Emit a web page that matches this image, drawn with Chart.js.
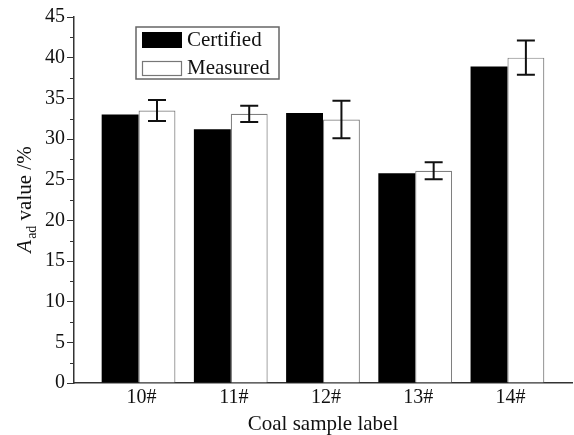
<!DOCTYPE html>
<html>
<head>
<meta charset="utf-8">
<script src="https://cdn.jsdelivr.net/npm/chart.js@4"></script>
<style>
  html, body { margin: 0; padding: 0; background: #fff; }
  #wrap { width: 574px; height: 435px; }
</style>
</head>
<body>
<div id="wrap"><canvas id="ashChart" width="574" height="435"></canvas></div>
<script>
var sampleNo = [10, 11, 12, 13, 14];
var sampleLabels = ['10#', '11#', '12#', '13#', '14#'];
var certified = [33.0, 31.2, 33.2, 25.8, 38.9];
var measured = [33.5, 33.1, 32.4, 26.1, 40.0];
var measuredErr = [1.3, 1.0, 2.3, 1.05, 2.1];
var yTicks = [0, 5, 10, 15, 20, 25, 30, 35, 40, 45];

var serif = '"Liberation Serif", "Times New Roman", serif';
var axisColor = '#333';

function toPoints(vals) {
	return vals.map(function (v, i) {
		return { x: sampleNo[i], y: v };
	});
}

// error bars, minor ticks, framed legend and the y title with subscript
var extras = {
	id: 'extras',
	afterDatasetsDraw: function (chart) {
		var ctx = chart.ctx;
		var y = chart.scales.y;
		var meta = chart.getDatasetMeta(1);
		ctx.save();
		ctx.strokeStyle = '#111';
		ctx.lineWidth = 2;
		meta.data.forEach(function (bar, i) {
			var top = y.getPixelForValue(measured[i] + measuredErr[i]);
			var bot = y.getPixelForValue(measured[i] - measuredErr[i]);
			var cx = bar.x;
			ctx.beginPath();
			ctx.moveTo(cx, top);
			ctx.lineTo(cx, bot);
			ctx.moveTo(cx - 9, top);
			ctx.lineTo(cx + 9, top);
			ctx.moveTo(cx - 9, bot);
			ctx.lineTo(cx + 9, bot);
			ctx.stroke();
		});
		ctx.restore();
	},
	afterDraw: function (chart) {
		var ctx = chart.ctx;
		var area = chart.chartArea;
		var y = chart.scales.y;

		// minor ticks on the y axis
		ctx.save();
		ctx.strokeStyle = axisColor;
		ctx.lineWidth = 1;
		for (var v = 2.5; v < 45; v += 5) {
			var py = Math.round(y.getPixelForValue(v)) + 0.5;
			ctx.beginPath();
			ctx.moveTo(area.left - 4, py);
			ctx.lineTo(area.left, py);
			ctx.stroke();
		}

		// legend
		ctx.strokeStyle = '#666';
		ctx.lineWidth = 1.5;
		ctx.strokeRect(136, 27, 143, 52);
		ctx.fillStyle = '#000';
		ctx.fillRect(142, 32, 40, 16);
		ctx.fillStyle = '#fff';
		ctx.fillRect(142.5, 61.5, 39, 14);
		ctx.strokeStyle = '#777';
		ctx.lineWidth = 1.2;
		ctx.strokeRect(142.5, 61.5, 39, 14);
		ctx.fillStyle = '#111';
		ctx.font = '21px ' + serif;
		ctx.textBaseline = 'middle';
		ctx.textAlign = 'left';
		ctx.fillText(chart.data.datasets[0].label, 187, 40);
		ctx.fillText(chart.data.datasets[1].label, 187, 68);

		// y title: A_ad value /%
		ctx.translate(24, (area.top + area.bottom) / 2);
		ctx.rotate(-Math.PI / 2);
		var fA = 'italic 21px ' + serif;
		var fSub = '14px ' + serif;
		var fMain = '21px ' + serif;
		var rest = ' value /%';
		ctx.font = fA; var wA = ctx.measureText('A').width;
		ctx.font = fSub; var wS = ctx.measureText('ad').width;
		ctx.font = fMain; var wR = ctx.measureText(rest).width;
		var x0 = -(wA + wS + wR) / 2;
		ctx.textBaseline = 'alphabetic';
		ctx.font = fA; ctx.fillText('A', x0, 7);
		ctx.font = fSub; ctx.fillText('ad', x0 + wA + 1, 12);
		ctx.font = fMain; ctx.fillText(rest, x0 + wA + wS + 1, 7);
		ctx.restore();
	}
};

new Chart('ashChart', {
	type: 'bar',
	data: {
		datasets: [
			{
				label: 'Certified',
				data: toPoints(certified),
				backgroundColor: '#000',
				borderColor: '#000',
				borderWidth: 0,
			},
			{
				label: 'Measured',
				data: toPoints(measured),
				backgroundColor: '#fff',
				borderColor: '#808080',
				borderWidth: 1.2,
			},
		],
	},
	options: {
		responsive: false,
		animation: false,
		events: [],
		layout: { padding: { top: 17, right: 2, left: 0, bottom: 0 } },
		plugins: {
			legend: { display: false },
			tooltip: { enabled: false },
		},
		datasets: {
			bar: { categoryPercentage: 0.8, barPercentage: 1.0 },
		},
		scales: {
			x: {
				type: 'linear',
				offset: false,
				min: 9.3,
				max: 14.7,
				grid: { display: false, drawTicks: false },
				border: { display: true, color: axisColor, width: 1.5 },
				afterBuildTicks: function (scale) {
					scale.ticks = sampleNo.map(function (n) { return { value: n }; });
				},
				afterFit: function (scale) { scale.height = 52; },
				ticks: {
					color: '#111',
					font: { family: serif, size: 20 },
					padding: 3,
					labelOffset: 3,
					maxRotation: 0,
					callback: function (v) {
						return sampleLabels[sampleNo.indexOf(v)];
					},
				},
				title: {
					display: true,
					text: 'Coal sample label',
					color: '#111',
					font: { family: serif, size: 21 },
					padding: { top: 0, bottom: -2 },
				},
			},
			y: {
				min: 0,
				max: 45,
				grid: {
					display: true,
					drawOnChartArea: false,
					drawTicks: true,
					tickLength: 7,
					tickColor: axisColor,
					tickWidth: 1,
				},
				border: { display: true, color: axisColor, width: 1.5 },
				afterBuildTicks: function (scale) {
					scale.ticks = yTicks.map(function (v) { return { value: v }; });
				},
				afterFit: function (scale) { scale.width = 74; },
				ticks: {
					color: '#111',
					font: { family: serif, size: 20 },
					padding: 2,
				},
			},
		},
	},
	plugins: [extras],
});
</script>
</body>
</html>
